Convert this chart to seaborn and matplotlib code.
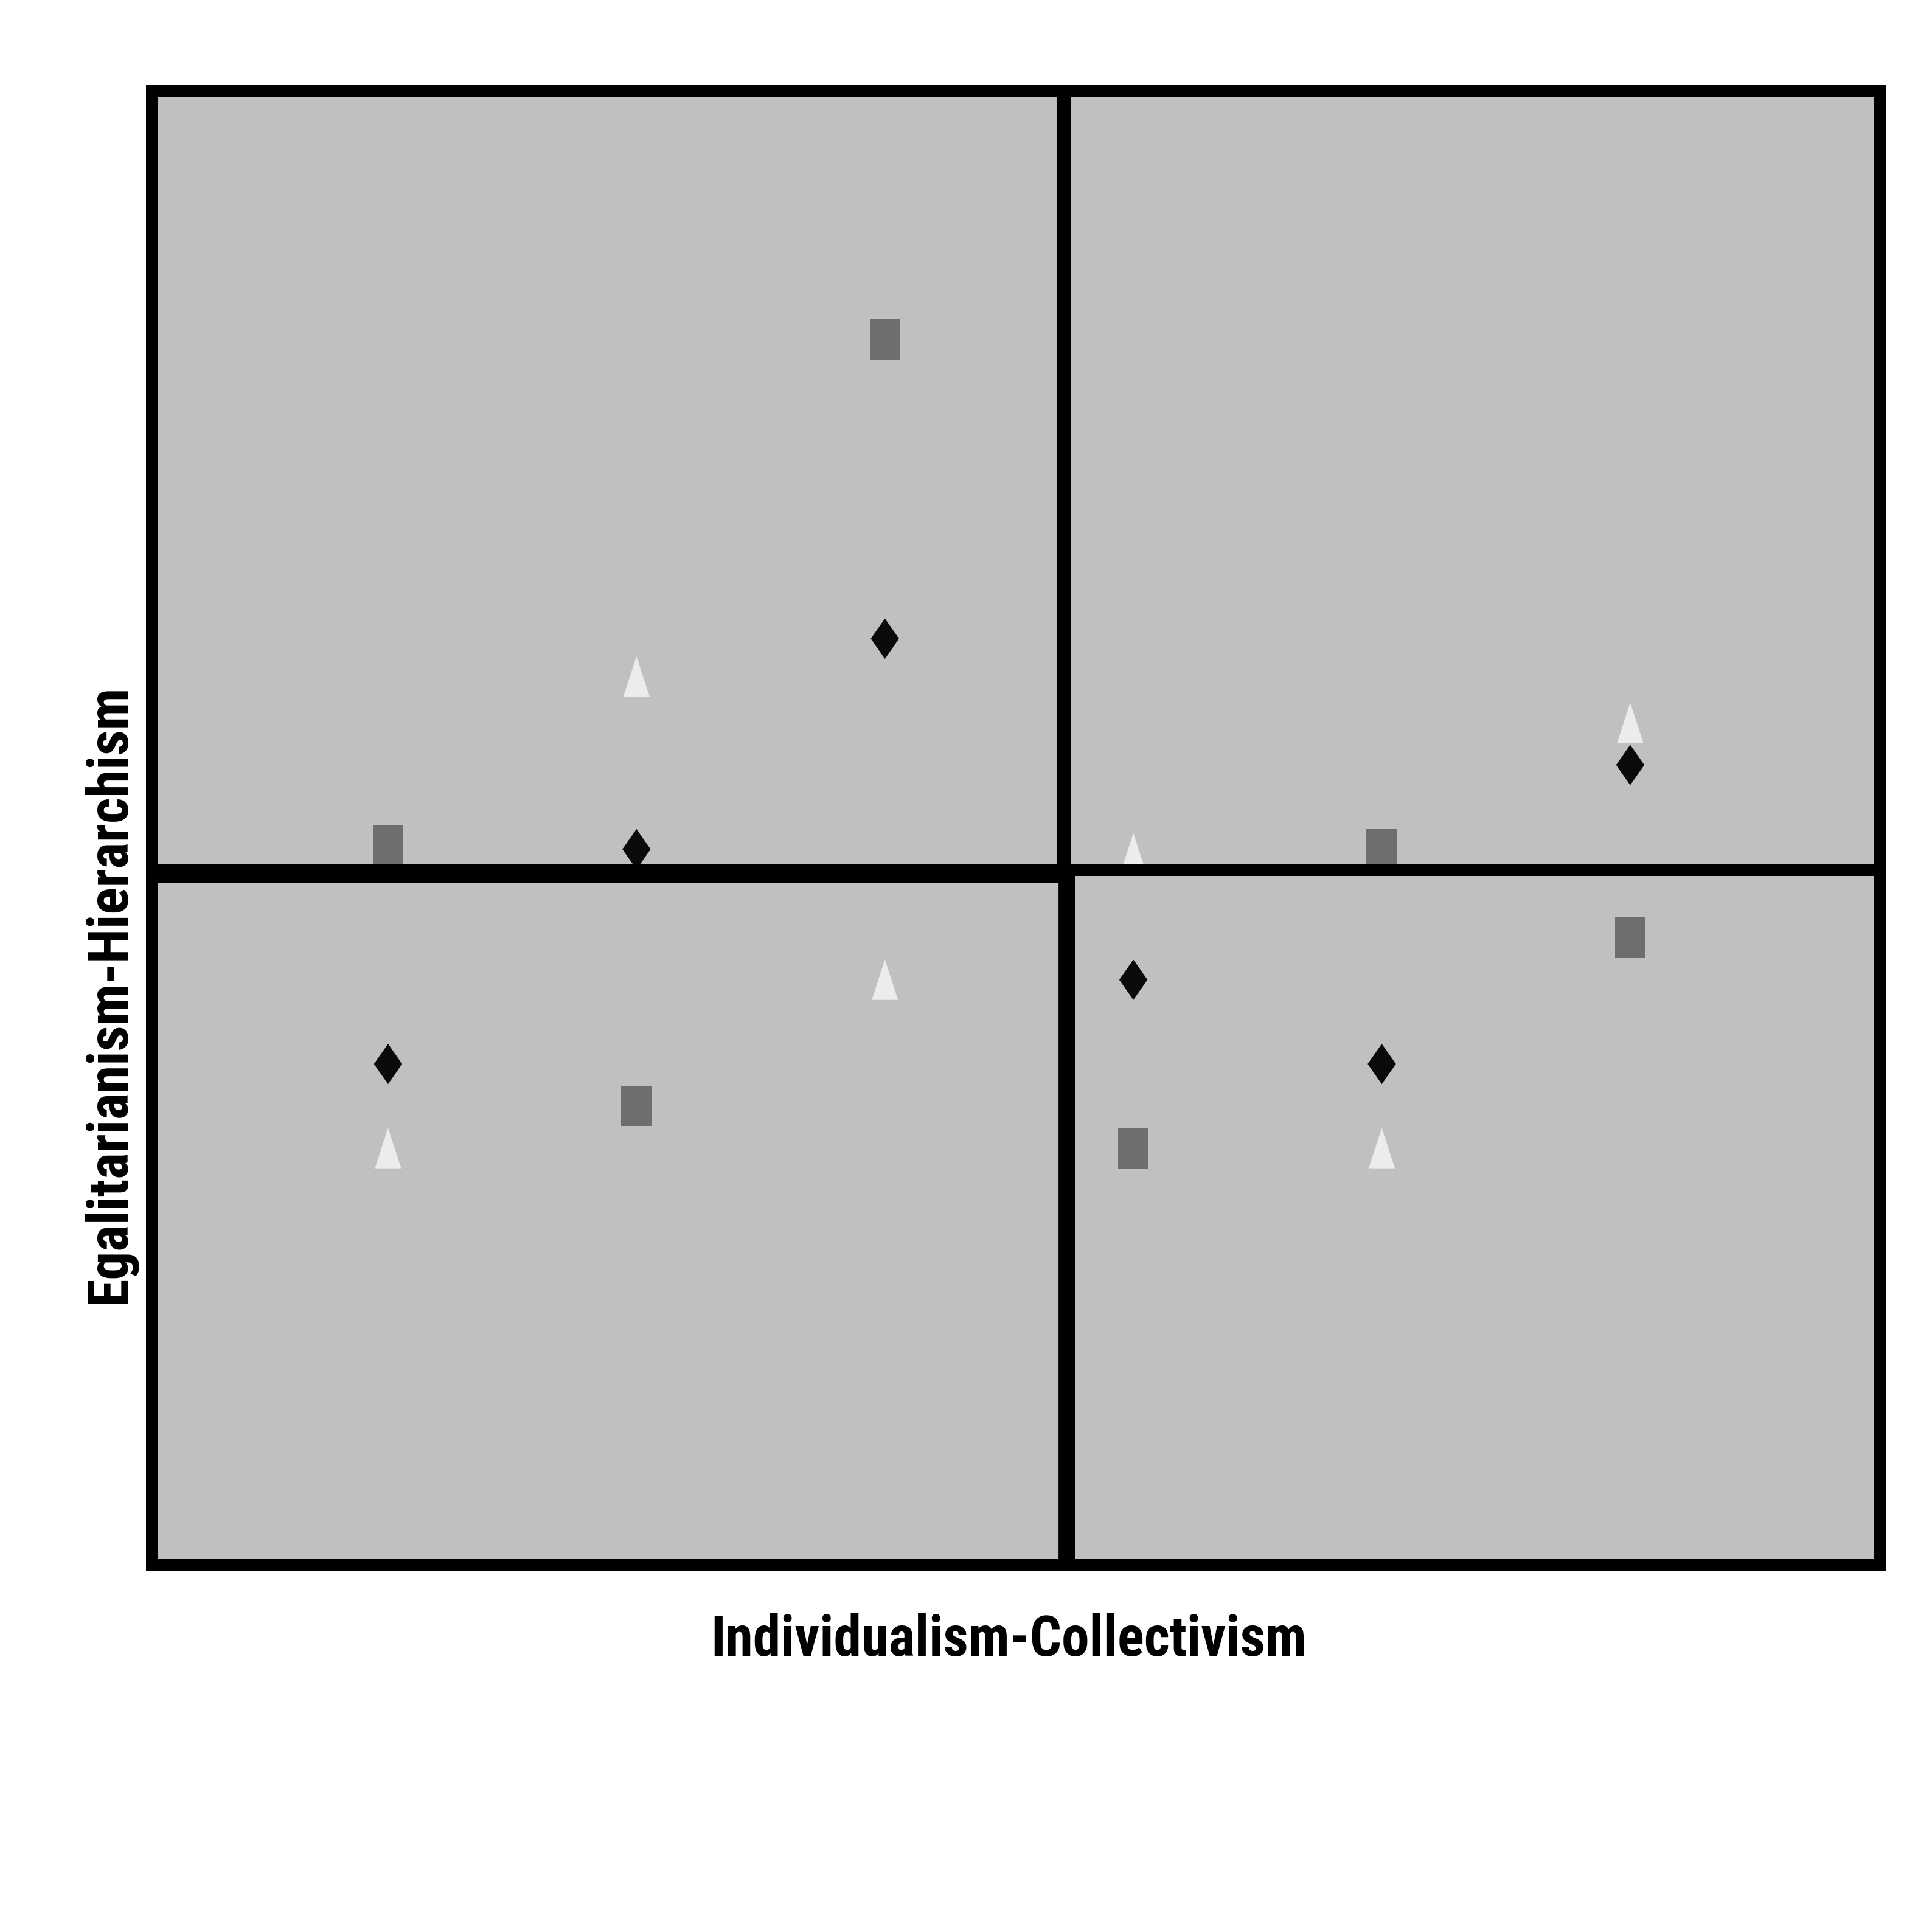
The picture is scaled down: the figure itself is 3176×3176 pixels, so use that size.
import matplotlib
matplotlib.use("Agg")
import matplotlib.pyplot as plt
import pandas as pd
import seaborn as sns

# six groups along the individualism-collectivism axis
groups = [1, 2, 3, 4, 5, 6]

# three series (no legend in the original)
square_vals = [17.1, 10.9, 29.1, 9.9, 17.0, 14.9]
diamond_vals = [11.9, 17.0, 22.0, 13.9, 11.9, 19.0]
triangle_vals = [9.9, 21.1, 13.9, 16.9, 9.9, 20.0]
series_names = ["Square", "Diamond", "Triangle"]

x_label = "Individualism-Collectivism"
y_label = "Egalitarianism-Hierarchism"

# quadrant dividers
x_split = 3.717
y_split = 16.42

df = pd.DataFrame({
    "group": groups * 3,
    "value": square_vals + diamond_vals + triangle_vals,
    "series": [series_names[0]] * 6 + [series_names[1]] * 6 + [series_names[2]] * 6,
})

sns.set_theme(style="white", rc={"axes.facecolor": "#c0c0c0"})
plt.rcParams['font.family'] = ['Roboto Condensed', 'DejaVu Sans']

fig = plt.figure(figsize=(15.88, 15.88), dpi=200)
ax = fig.add_axes([0.0787, 0.1899, 0.8942, 0.7629])

markers = {
    "Square": [(-0.38, -0.5), (0.38, -0.5), (0.38, 0.5), (-0.38, 0.5)],
    "Diamond": [(0, 0.5), (0.35, 0), (0, -0.5), (-0.35, 0)],
    "Triangle": [(0, 0.5), (0.326, -0.5), (-0.326, -0.5)],
}
palette = {"Square": "#6e6e6e", "Diamond": "#0a0a0a", "Triangle": "#ececec"}

sns.scatterplot(data=df, x="group", y="value", hue="series", style="series",
                markers=markers, palette=palette, s=570, linewidth=0,
                legend=False, ax=ax, zorder=2)

xlo, xhi = 0.05, 7.004
ylo, yhi = 0, 35
ax.set_xlim(xlo, xhi)
ax.set_ylim(ylo, yhi)

xf = (x_split - xlo) / (xhi - xlo)
yf = (y_split - ylo) / (yhi - ylo)
ax.axhline(y_split, xmin=0, xmax=xf, color="black", lw=11.5, zorder=3)
ax.axhline(y_split + 0.09, xmin=xf, xmax=1, color="black", lw=7.2, zorder=3)
ax.axvline(x_split, ymin=yf, ymax=1, color="black", lw=8.3, zorder=3)
ax.axvline(x_split + 0.016, ymin=0, ymax=yf, color="black", lw=10, zorder=3)

for sp in ax.spines.values():
    sp.set_linewidth(7.2)
    sp.set_color("black")
    sp.set_zorder(4)

ax.set_xticks([])
ax.set_yticks([])

xl = ax.set_xlabel(x_label, fontsize=36, fontweight="bold", color="black", va="center")
yl = ax.set_ylabel(y_label, fontsize=36, fontweight="bold", color="black", va="center")
ax.xaxis.set_label_coords(0.4958, -0.0512)
ax.yaxis.set_label_coords(-0.0246, 0.3875)

# size the labels to the text length seen in the original
fig.canvas.draw()
r = fig.canvas.get_renderer()
w = xl.get_window_extent(r).width
xl.set_fontsize(36 * 980 / w)
h = yl.get_window_extent(r).height
yl.set_fontsize(36 * 1019 / h)

fig.savefig("out.png", dpi=200, facecolor="white")
